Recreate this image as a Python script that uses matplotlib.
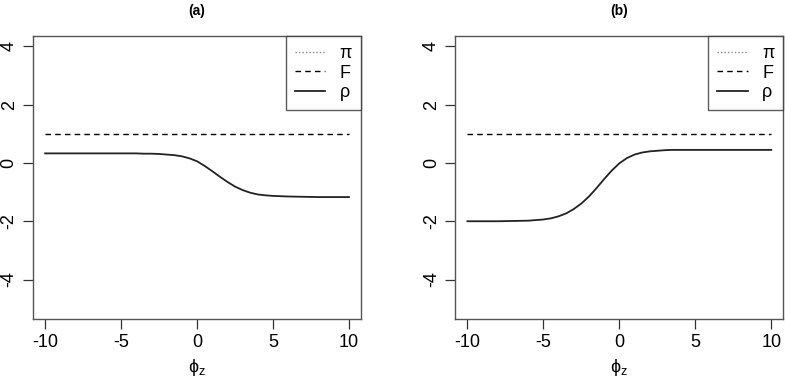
import matplotlib
matplotlib.use("Agg")
import matplotlib.pyplot as plt
from matplotlib.lines import Line2D

plt.rcParams["font.family"] = ["Liberation Sans", "DejaVu Sans"]
plt.rcParams["axes.unicode_minus"] = False
plt.rcParams["mathtext.fontset"] = "custom"
plt.rcParams["mathtext.rm"] = "Liberation Sans"

# values
phi = [-10, -9, -8, -7, -6, -5, -4.5, -4, -3.5, -3, -2.5, -2, -1.5, -1, -0.5,
       0, 0.5, 1, 1.5, 2, 2.5, 3, 3.5, 4, 4.5, 5, 6, 7, 8, 9, 10]

rho_a = [0.33, 0.33, 0.33, 0.33, 0.33, 0.33, 0.33, 0.33, 0.32, 0.32, 0.31,
         0.29, 0.27, 0.23, 0.16, 0.06, -0.10, -0.28, -0.47, -0.65, -0.81,
         -0.93, -1.02, -1.08, -1.11, -1.13, -1.15, -1.16, -1.17, -1.17, -1.17]

rho_b = [-2.00, -2.00, -2.00, -1.99, -1.98, -1.94, -1.90, -1.83, -1.73,
         -1.58, -1.39, -1.15, -0.86, -0.55, -0.26, -0.01, 0.17, 0.29, 0.36,
         0.40, 0.42, 0.44, 0.45, 0.45, 0.45, 0.45, 0.45, 0.45, 0.45, 0.45, 0.45]

f_x = [-10, 10]
f_a = [1.0, 1.0]
f_b = [1.0, 1.0]

panels = [("(a)", rho_a, f_a), ("(b)", rho_b, f_b)]
labels = ["\u03c0", "F", "\u03c1"]

fig = plt.figure(figsize=(7.85, 3.79), dpi=100)
boxes = [[0.042, 0.158, 0.418, 0.747], [0.580, 0.158, 0.418, 0.747]]

for (title, rho, fval), box in zip(panels, boxes):
    ax = fig.add_axes(box)
    ax.plot(f_x, fval, color="black", lw=1.0, dashes=(4, 3))
    ax.plot(phi, rho, color="#222222", lw=1.3)

    ax.set_xlim(-10.8, 10.8)
    ax.set_ylim(-5.36, 4.36)
    ax.set_xticks([-10, -5, 0, 5, 10])
    ax.set_yticks([-4, -2, 0, 2, 4])
    ax.tick_params(labelsize=13, length=7, width=0.9, pad=4, colors="#333333",
                   labelcolor="black")
    for lab in ax.get_yticklabels():
        lab.set_rotation(90)
        lab.set_va("center")
    for s in ax.spines.values():
        s.set_color("#555555")
        s.set_linewidth(1.0)

    ax.set_xlabel(r"$\mathregular{\phi_z}$", fontsize=13, labelpad=4)
    ax.set_title(title, fontsize=10, fontweight="bold", pad=15)

    handles = [
        Line2D([], [], color="#888888", lw=1.0, dashes=(1, 1.5)),
        Line2D([], [], color="black", lw=1.0, dashes=(4, 3)),
        Line2D([], [], color="#222222", lw=1.3),
    ]
    leg = ax.legend(handles, labels, loc="upper right", fontsize=13,
                    frameon=True, fancybox=False, borderaxespad=0,
                    handlelength=1.7, handletextpad=0.8, labelspacing=0.15,
                    borderpad=0.5)
    leg.get_frame().set_edgecolor("#333333")
    leg.get_frame().set_linewidth(1.0)

plt.savefig("out.png", dpi=100)
